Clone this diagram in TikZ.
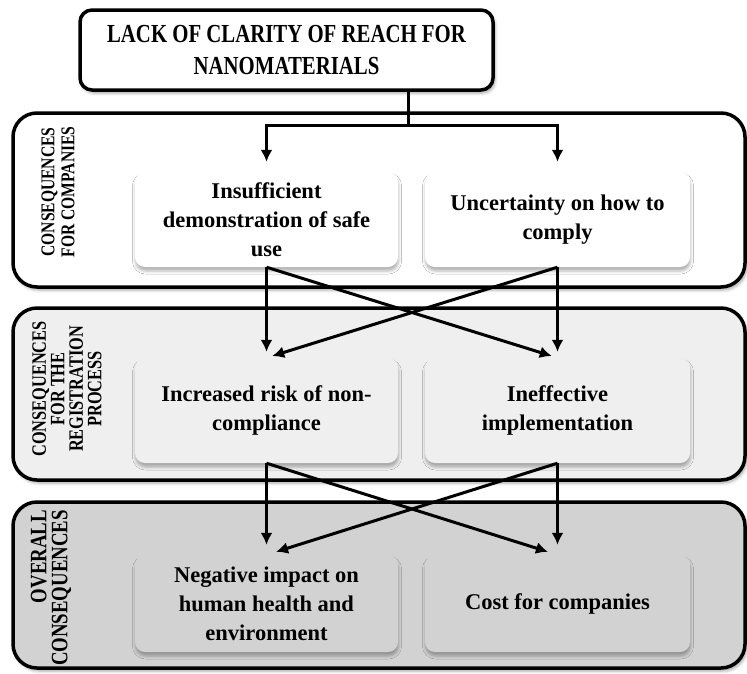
\documentclass[tikz,border=0pt]{standalone}
\usepackage{fontspec}
\setmainfont{Liberation Serif}
\newfontfamily\titlefont[FakeStretch=0.8]{Liberation Serif}
\newfontfamily\sidefont[FakeStretch=0.8]{Liberation Serif}
\usetikzlibrary{shadows.blur,arrows.meta}

\definecolor{panelA}{HTML}{FFFFFF}
\definecolor{panelB}{HTML}{EFEFEF}
\definecolor{panelC}{HTML}{D2D2D2}

\tikzset{
  panel/.style={draw=black, line width=3.5pt, rounded corners=24pt, inner sep=0pt,
    minimum width=732pt,
    blur shadow={shadow xshift=2pt, shadow yshift=-3pt, shadow opacity=35, shadow blur radius=3pt}},
  itembox/.style={rounded corners=10pt, inner sep=0pt, align=center,
    font=\bfseries\fontsize{22.5}{29}\selectfont,
    blur shadow={shadow xshift=0.5pt, shadow yshift=-4pt, shadow opacity=30, shadow blur radius=3pt}},
  sidelabel/.style={rotate=90, align=center, inner sep=0pt},
  headbox/.style={draw=black, line width=3.5pt, rounded corners=12pt, fill=white, align=center,
    minimum width=413pt, minimum height=80pt, inner sep=0pt,
    font=\titlefont\bfseries\fontsize{26}{32}\selectfont,
    blur shadow={shadow xshift=2pt, shadow yshift=-3pt, shadow opacity=35, shadow blur radius=3pt}},
  link/.style={line width=3pt, -{Latex[length=12pt,width=12pt]}},
}

\begin{document}
\begin{tikzpicture}[x=1pt,y=-1pt]
\useasboundingbox (0,0) rectangle (747,673);

% the three bands of consequences
\node[panel, fill=panelA, minimum height=174pt] (p1) at (379,200) {};
\node[panel, fill=panelB, minimum height=172pt] (p2) at (379,394) {};
\node[panel, fill=panelC, minimum height=166pt] (p3) at (379,585) {};

% band titles, written upwards
\node[sidelabel, font=\sidefont\bfseries\fontsize{19.5}{20}\selectfont] (l1) at (58,192)
  {CONSEQUENCES\\FOR COMPANIES};
\node[sidelabel, font=\sidefont\bfseries\fontsize{20.4}{18.5}\selectfont] (l2) at (67,389)
  {CONSEQUENCES\\FOR THE\\REGISTRATION\\PROCESS};
\node[sidelabel, align=right, anchor=east, font=\sidefont\bfseries\fontsize{23.5}{21}\selectfont] (l3) at (51,510)
  {OVERALL\\CONSEQUENCES};

% boxes inside the bands
\node[itembox, fill=panelA, minimum width=263pt, minimum height=95pt] (a1) at (266.5,219.5)
  {Insufficient\\demonstration of safe\\use};
\node[itembox, fill=panelA, minimum width=265pt, minimum height=95pt] (a2) at (557.5,219.5)
  {Uncertainty on how to\\comply};
\node[itembox, fill=panelB, minimum width=263pt, minimum height=105pt] (b1) at (266.5,410.5)
  {Increased risk of non-\\compliance};
\node[itembox, fill=panelB, minimum width=265pt, minimum height=105pt] (b2) at (557.5,410.5)
  {Ineffective\\implementation};
\node[itembox, fill=panelC, minimum width=263pt, minimum height=97pt] (c1) at (266.5,603.5)
  {Negative impact on\\human health and\\environment};
\node[itembox, fill=panelC, minimum width=265pt, minimum height=97pt] (c2) at (557.5,603.5)
  {Cost for companies};

% heading box
\node[headbox] (top) at (286.5,50) {LACK OF CLARITY OF REACH FOR\\NANOMATERIALS};

% connectors
\coordinate (j) at (408,125);
\draw[line width=3pt] (top.south -| j) -- (j);
\draw[link, shorten >=10pt] (j) -| (a1.north);
\draw[link, shorten >=10pt] (j) -| (a2.north);

\draw[link, shorten >=6pt] (a1.south) -- (b1.north);
\draw[link, shorten >=6pt] (a1.south) -- (b2.north);
\draw[link, shorten >=6pt] (a2.south) -- (b2.north);
\draw[link, shorten >=6pt] (a2.south) -- (b1.north);

\draw[link, shorten >=10pt] (b1.south) -- (c1.north);
\draw[link, shorten >=10pt] (b1.south) -- (c2.north);
\draw[link, shorten >=10pt] (b2.south) -- (c2.north);
\draw[link, shorten >=10pt] (b2.south) -- (c1.north);
\end{tikzpicture}
\end{document}
